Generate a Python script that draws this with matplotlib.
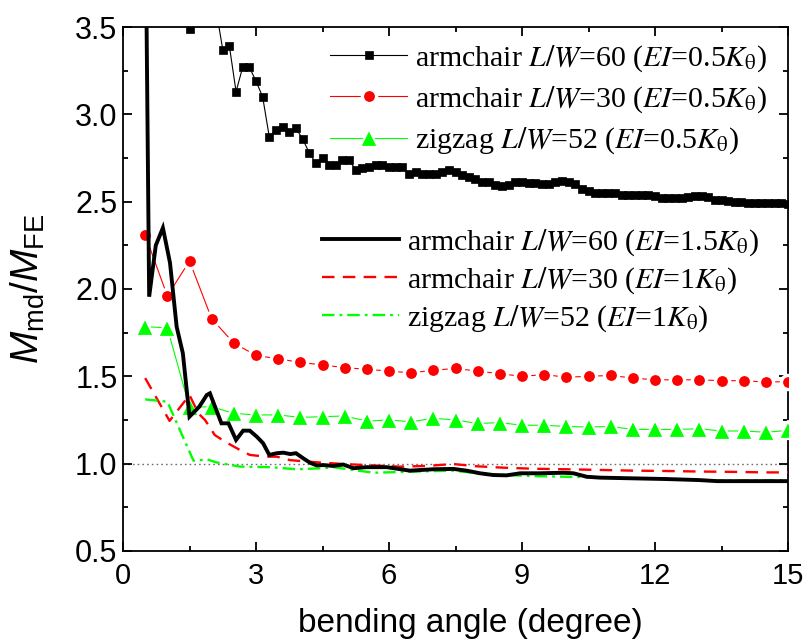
import matplotlib
matplotlib.use("Agg")
import matplotlib.pyplot as plt
from matplotlib.font_manager import FontProperties
from matplotlib.markers import MarkerStyle

plt.rcParams['font.family'] = ['Liberation Sans', 'DejaVu Sans']
plt.rcParams['mathtext.fontset'] = 'custom'
plt.rcParams['mathtext.rm'] = 'Liberation Sans'
plt.rcParams['mathtext.it'] = 'Liberation Sans:italic'
plt.rcParams['lines.scale_dashes'] = False

# ---- data ----
sq_x = [1.35, 1.5, 1.65, 1.8, 1.95, 2.1, 2.25, 2.4, 2.55, 2.7, 2.85, 3.0, 3.15, 3.3, 3.45, 3.6, 3.75, 3.9,
        4.05, 4.2, 4.35, 4.5, 4.65, 4.8, 4.95, 5.1, 5.25, 5.4, 5.55, 5.7, 5.85, 6.0, 6.15, 6.3, 6.45, 6.6,
        6.75, 6.9, 7.05, 7.2, 7.35, 7.5, 7.65, 7.8, 7.95, 8.1, 8.25, 8.4, 8.55, 8.7, 8.85, 9.0, 9.15, 9.3,
        9.45, 9.6, 9.75, 9.9, 10.05, 10.2, 10.35, 10.5, 10.65, 10.8, 10.95, 11.1, 11.25, 11.4, 11.55, 11.7,
        11.85, 12.0, 12.15, 12.3, 12.45, 12.6, 12.75, 12.9, 13.05, 13.2, 13.35, 13.5, 13.65, 13.8, 13.95,
        14.1, 14.25, 14.4, 14.55, 14.7, 14.85, 15.0]
sq_y = [4.00, 3.49, 4.20, 4.05, 3.85, 3.60, 3.37, 3.39, 3.13, 3.27, 3.27, 3.19, 3.10, 2.87, 2.91, 2.93, 2.90, 2.92,
        2.86, 2.78, 2.72, 2.75, 2.71, 2.71, 2.74, 2.74, 2.68, 2.69, 2.70, 2.71, 2.71, 2.70, 2.70, 2.70, 2.66, 2.67,
        2.66, 2.66, 2.66, 2.67, 2.68, 2.67, 2.65, 2.64, 2.63, 2.61, 2.61, 2.595, 2.59, 2.595, 2.61, 2.61, 2.605, 2.605,
        2.60, 2.60, 2.61, 2.62, 2.61, 2.60, 2.57, 2.56, 2.55, 2.55, 2.55, 2.55, 2.54, 2.54, 2.54, 2.54,
        2.54, 2.535, 2.52, 2.52, 2.52, 2.52, 2.525, 2.53, 2.53, 2.525, 2.51, 2.51, 2.505, 2.50, 2.50,
        2.495, 2.495, 2.495, 2.495, 2.49, 2.49, 2.485]

half_x = [0.5, 1.0, 1.5, 2.0, 2.5, 3.0, 3.5, 4.0, 4.5, 5.0, 5.5, 6.0, 6.5, 7.0, 7.5, 8.0, 8.5, 9.0, 9.5, 10.0,
          10.5, 11.0, 11.5, 12.0, 12.5, 13.0, 13.5, 14.0, 14.5, 15.0]
rc_y = [2.31, 1.96, 2.16, 1.83, 1.69, 1.62, 1.60, 1.58, 1.565, 1.55, 1.54, 1.53, 1.52, 1.535, 1.545, 1.53, 1.515,
        1.50, 1.51, 1.495, 1.50, 1.505, 1.49, 1.48, 1.48, 1.48, 1.475, 1.475, 1.467, 1.47]
gt_y = [1.784, 1.778, 1.323, 1.326, 1.288, 1.279, 1.279, 1.265, 1.269, 1.273, 1.244, 1.25, 1.24, 1.26, 1.25, 1.23,
        1.235, 1.22, 1.22, 1.213, 1.21, 1.213, 1.196, 1.196, 1.196, 1.20, 1.187, 1.187, 1.18, 1.19]

bk_x = [0.45, 0.59, 0.74, 0.90, 1.06, 1.21, 1.35, 1.50, 1.72, 1.89, 1.96, 2.22, 2.38, 2.55, 2.71, 2.86, 3.02, 3.16,
        3.30, 3.47, 3.62, 3.77, 3.90, 4.07, 4.22, 4.37, 4.52, 4.74, 4.97, 5.20, 5.50, 5.95, 6.47, 7.00, 7.45, 7.75,
        8.05, 8.35, 8.65, 8.96, 9.40, 9.93, 10.16, 10.46, 10.76, 11.50, 12.26, 13.00, 13.40, 14.15, 15.0]
bk_y = [5.7, 1.956, 2.25, 2.35, 2.15, 1.784, 1.632, 1.269, 1.326, 1.393, 1.403, 1.231, 1.231, 1.136, 1.189, 1.189,
        1.154, 1.117, 1.05, 1.06, 1.063, 1.055, 1.06, 1.03, 1.005, 0.99, 0.992, 0.987, 0.995, 0.974, 0.98, 0.98,
        0.96, 0.968, 0.97, 0.96, 0.945, 0.935, 0.933, 0.945, 0.945, 0.948, 0.945, 0.925, 0.92, 0.916, 0.912, 0.906,
        0.90, 0.90, 0.90]

rd_x = [0.5, 1.05, 1.5, 1.7, 1.85, 2.07, 2.3, 2.64, 2.86, 3.24, 3.47, 3.77, 4.37, 4.97, 5.65, 6.25, 6.85, 7.45,
        7.98, 8.58, 9.26, 10.0, 10.76, 11.5, 12.26, 13.0, 13.77, 14.5, 15.0]
rd_y = [1.49, 1.245, 1.393, 1.288, 1.25, 1.164, 1.126, 1.078, 1.05, 1.04, 1.04, 1.02, 1.008, 0.998, 0.99, 0.983,
        0.987, 0.998, 0.985, 0.977, 0.971, 0.968, 0.964, 0.96, 0.958, 0.955, 0.953, 0.95, 0.95]

gd_x = [0.5, 1.0, 1.59, 1.75, 1.89, 2.11, 2.64, 3.32, 3.92, 4.52, 4.74, 5.65, 6.47, 7.45, 8.2, 9.26, 10.0, 10.6,
        11.5, 12.26, 13.4, 14.15, 15.0]
gd_y = [1.368, 1.355, 1.017, 1.02, 1.025, 1.007, 0.983, 0.98, 0.968, 0.974, 0.98, 0.948, 0.954, 0.96, 0.939,
        0.929, 0.925, 0.922, 0.916, 0.912, 0.903, 0.903, 0.906]

labels_top = [r"armchair $L/W$=60 ($EI$=0.5$K_\mathrm{\theta}$)",
              r"armchair $L/W$=30 ($EI$=0.5$K_\mathrm{\theta}$)",
              r"zigzag $L/W$=52 ($EI$=0.5$K_\mathrm{\theta}$)"]
labels_bot = [r"armchair $L/W$=60 ($EI$=1.5$K_\mathrm{\theta}$)",
              r"armchair $L/W$=30 ($EI$=1$K_\mathrm{\theta}$)",
              r"zigzag $L/W$=52 ($EI$=1$K_\mathrm{\theta}$)"]

RED = '#ff0000'
GRN = '#00ff00'

fig = plt.figure(figsize=(8.08, 6.4), dpi=100)
ax = fig.add_axes([123 / 808, 1 - 551 / 640, (788 - 123) / 808, (551 - 27) / 640])

ax.axhline(1.0, color='#707070', lw=1.0, ls=(0, (1.2, 2.2)), zorder=1)

l1, = ax.plot(sq_x, sq_y, color='black', lw=0.8, marker='s', ms=6, mfc='black', mec='black', mew=0.5, zorder=3)
l2, = ax.plot(half_x, rc_y, color=RED, lw=0.8, marker='o', ms=10.2, mfc=RED, mec='white', mew=2.4, zorder=3)
tri = MarkerStyle('^', joinstyle='round')
l3, = ax.plot(half_x, gt_y, color=GRN, lw=0.8, marker=tri, ms=12.5, mfc=GRN, mec='white', mew=1.6, zorder=3)

l4, = ax.plot(bk_x, bk_y, color='black', lw=2.8, zorder=5, solid_joinstyle='miter')
l5, = ax.plot(rd_x, rd_y, color=RED, lw=1.7, ls=(0, (9.0, 6.0)), zorder=4)
l6, = ax.plot(gd_x, gd_y, color=GRN, lw=1.7, ls=(0, (9.0, 3.6, 2.0, 3.6)), zorder=4)

ax.set_xlim(0, 15)
ax.set_ylim(0.5, 3.5)
ax.set_xticks([0, 3, 6, 9, 12, 15])
ax.set_xticks([1.5, 4.5, 7.5, 10.5, 13.5], minor=True)
ax.set_yticks([0.5, 1.0, 1.5, 2.0, 2.5, 3.0, 3.5])
ax.set_yticklabels(['0.5', '1.0', '1.5', '2.0', '2.5', '3.0', '3.5'])
ax.set_yticks([0.75, 1.25, 1.75, 2.25, 2.75, 3.25], minor=True)

for s in ax.spines.values():
    s.set_linewidth(1.3)
ax.tick_params(which='both', direction='in', top=True, right=True, width=1.3)
ax.tick_params(which='major', length=6.5)
ax.tick_params(which='minor', length=3.6)
ax.tick_params(axis='x', labelsize=21, pad=8)
ax.tick_params(axis='y', labelsize=22, pad=4)

ax.set_xlabel('bending angle (degree)', fontsize=24)
ax.xaxis.set_label_coords(0.522, -0.108)
ax.set_ylabel(r'$M_\mathrm{md}/M_\mathrm{FE}$', fontsize=28)
ax.yaxis.set_label_coords(-0.115, 0.5)

fp = FontProperties(family='Liberation Serif', size=21.5, math_fontfamily='stix')
leg1 = ax.legend([l1, l2, l3], labels_top, prop=fp, frameon=False, loc='upper left',
                 bbox_to_anchor=(330 / 808, 1 - 43 / 640), bbox_transform=fig.transFigure,
                 borderpad=0, borderaxespad=0, handlelength=2.58, handletextpad=0.27, labelspacing=0.36,
                 numpoints=1)
ax.add_artist(leg1)
leg2 = ax.legend([l4, l5, l6], labels_bot, prop=fp, frameon=False, loc='upper left',
                 bbox_to_anchor=(322 / 808, 1 - 227 / 640), bbox_transform=fig.transFigure,
                 borderpad=0, borderaxespad=0, handlelength=2.58, handletextpad=0.27, labelspacing=0.25)

fig.savefig('out.png', dpi=100)
